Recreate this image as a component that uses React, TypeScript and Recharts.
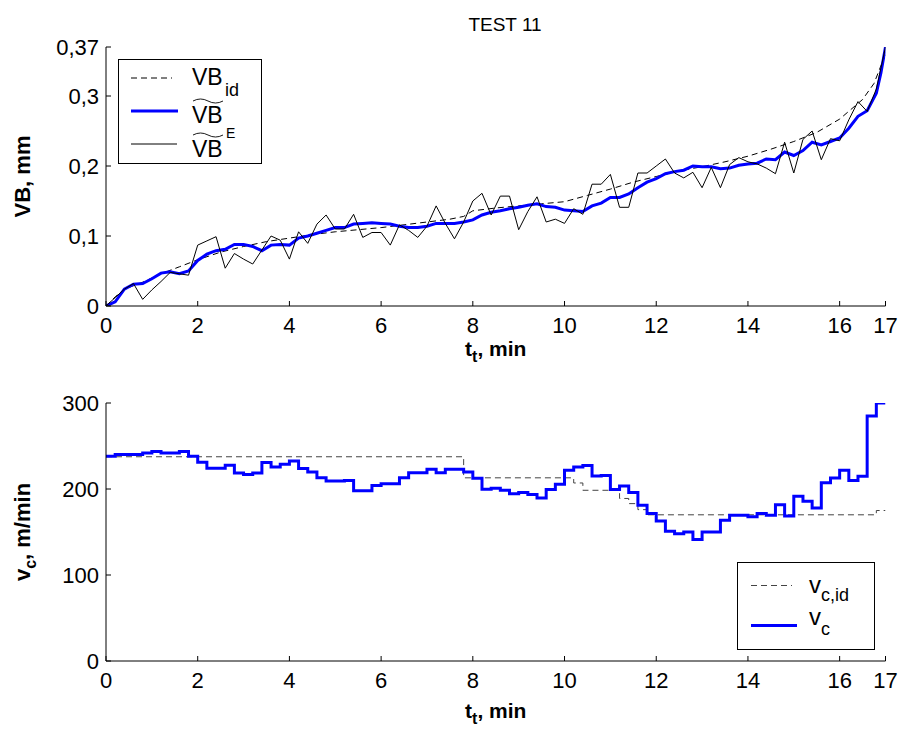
import React from 'react';
import { LineChart, Line, XAxis, YAxis, Legend, Label } from 'recharts';

const FONT = '"Liberation Sans", Arial, Helvetica, sans-serif';

// ---------- axis ticks ----------
const X_TICKS = [0, 2, 4, 6, 8, 10, 12, 14, 16, 17];
const VB_TICKS = [0, 0.1, 0.2, 0.3, 0.37];
const VC_TICKS = [0, 100, 200, 300];

// ---------- time samples (min) ----------
const T_SAMPLES = [0, 0.2, 0.4, 0.6, 0.8, 1, 1.2, 1.4, 1.6, 1.8, 2, 2.2, 2.4, 2.6, 2.8, 3, 3.2, 3.4, 3.6, 3.8, 4, 4.2, 4.4, 4.6, 4.8, 5, 5.2, 5.4, 5.6, 5.8, 6, 6.2, 6.4, 6.6, 6.8, 7, 7.2, 7.4, 7.6, 7.8, 8, 8.2, 8.4, 8.6, 8.8, 9, 9.2, 9.4, 9.6, 9.8, 10, 10.2, 10.4, 10.6, 10.8, 11, 11.2, 11.4, 11.6, 11.8, 12, 12.2, 12.4, 12.6, 12.8, 13, 13.2, 13.4, 13.6, 13.8, 14, 14.2, 14.4, 14.6, 14.8, 15, 15.2, 15.4, 15.6, 15.8, 16, 16.2, 16.4, 16.6, 16.8, 17];
const T_SMOOTH = [0, 0.2, 0.4, 0.6, 0.8, 1, 1.2, 1.4, 1.6, 1.8, 2, 2.2, 2.4, 2.6, 2.8, 3, 3.2, 3.4, 3.6, 3.8, 4, 4.2, 4.4, 4.6, 4.8, 5, 5.2, 5.4, 5.6, 5.8, 6, 6.2, 6.4, 6.6, 6.8, 7, 7.2, 7.4, 7.6, 7.8, 8, 8.2, 8.4, 8.6, 8.8, 9, 9.2, 9.4, 9.6, 9.8, 10, 10.2, 10.4, 10.6, 10.8, 11, 11.2, 11.4, 11.6, 11.8, 12, 12.2, 12.4, 12.6, 12.8, 13, 13.2, 13.4, 13.6, 13.8, 14, 14.2, 14.4, 14.6, 14.8, 15, 15.2, 15.4, 15.6, 15.8, 16, 16.2, 16.4, 16.6, 16.8, 16.9, 17];
const T_IDEAL = [0, 0.2, 0.4, 0.8, 1.2, 1.6, 2, 2.5, 3, 3.5, 4, 4.5, 5, 5.5, 6, 6.5, 7, 7.5, 7.8, 8, 8.5, 9, 9.5, 10, 10.5, 11, 11.5, 12, 12.5, 13, 13.5, 14, 14.5, 15, 15.5, 16, 16.5, 16.75, 17];
const T_VC_IDEAL = [0, 7.8, 10.2, 10.4, 11.2, 11.4, 11.6, 11.8, 16.8, 17];

// ---------- flank wear VB (mm) ----------
const VB_IDEAL = [0, 0.013, 0.024, 0.034, 0.046, 0.056, 0.066, 0.077, 0.085, 0.092, 0.097, 0.102, 0.106, 0.109, 0.112, 0.116, 0.12, 0.124, 0.128, 0.136, 0.14, 0.143, 0.146, 0.149, 0.158, 0.167, 0.177, 0.185, 0.193, 0.199, 0.206, 0.214, 0.224, 0.235, 0.248, 0.267, 0.295, 0.318, 0.36];
const VB_SMOOTH = [0, 0.006, 0.024, 0.031, 0.032, 0.039, 0.047, 0.049, 0.046, 0.05,
  0.065, 0.074, 0.079, 0.081, 0.088, 0.088, 0.085, 0.079, 0.087, 0.088,
  0.087, 0.097, 0.1, 0.104, 0.108, 0.112, 0.112, 0.117, 0.118, 0.119,
  0.118, 0.117, 0.114, 0.112, 0.112, 0.114, 0.118, 0.118, 0.118, 0.12,
  0.123, 0.13, 0.134, 0.136, 0.139, 0.141, 0.144, 0.146, 0.142, 0.141,
  0.137, 0.136, 0.135, 0.143, 0.147, 0.155, 0.155, 0.16, 0.169, 0.177,
  0.182, 0.189, 0.192, 0.194, 0.2, 0.199, 0.199, 0.196, 0.197, 0.201,
  0.203, 0.204, 0.21, 0.209, 0.22, 0.215, 0.222, 0.234, 0.23, 0.235,
  0.24, 0.254, 0.271, 0.279, 0.304, 0.333, 0.37];
const VB_MEASURED = [0, 0.012, 0.024, 0.032, 0.0095, 0.023, 0.035, 0.048, 0.046, 0.044,
  0.087, 0.093, 0.099, 0.054, 0.075, 0.067, 0.06, 0.08, 0.1, 0.094,
  0.067, 0.106, 0.0895, 0.117, 0.13, 0.11, 0.11, 0.131, 0.098, 0.105,
  0.105, 0.087, 0.116, 0.108, 0.098, 0.114, 0.143, 0.118, 0.096, 0.12,
  0.15, 0.161, 0.13, 0.157, 0.157, 0.109, 0.135, 0.156, 0.12, 0.124,
  0.118, 0.139, 0.131, 0.174, 0.174, 0.188, 0.141, 0.141, 0.19, 0.19,
  0.2, 0.21, 0.19, 0.183, 0.191, 0.169, 0.198, 0.169, 0.202, 0.212,
  0.206, 0.203, 0.197, 0.189, 0.234, 0.19, 0.238, 0.25, 0.209, 0.239,
  0.236, 0.266, 0.292, 0.278, 0.31, 0.37];

// ---------- cutting speed vc (m/min) ----------
const VC_IDEAL = [237.5, 213, 207, 198.5, 189, 183, 176, 170, 175, 175];
const VC = [238, 240, 240, 240, 242, 243.5, 242, 242, 243.5, 238,
  231, 224, 224, 227.5, 218.6, 217, 218.6, 230.7, 225.6, 228.7,
  232.6, 223.7, 219.8, 213.2, 209.3, 209.3, 210, 198, 198, 204,
  206, 206, 213.2, 219, 219, 223, 219, 223, 223, 219.8,
  212.4, 199.7, 201, 198.5, 194.6, 196, 193.5, 189.5, 199.3, 205.5,
  221.7, 225.6, 227.2, 215, 215.8, 199.3, 203.5, 195.8, 181, 171.4,
  162.8, 150.8, 148.1, 150, 141.2, 150, 150, 163.6, 169.4, 169.4,
  167.6, 171.4, 169.4, 181.8, 168.6, 191.5, 185.7, 178, 207.4, 212.8,
  221.7, 210, 214.8, 285, 300, 300];

const TITLE = 'TEST 11';

const toPoints = (ts: number[], vs: number[]) => ts.map((t, i) => ({ t, v: vs[i] }));
const commaFmt = (v: number) => String(v).replace('.', ',');

const TICK_STYLE = { fontSize: 22, fill: '#000', fontFamily: FONT };
const BLUE = '#0000ff';

const makeXLabel = (dy: number) => (props: any) => {
  const vb = props.viewBox || {};
  const x = vb.x + vb.width / 2;
  const y = vb.y + dy;
  return (
    <text x={x} y={y} textAnchor="middle" fontFamily={FONT} fontWeight="bold" fontSize={21} fill="#000">
      t<tspan fontSize={16} dy={6}>t</tspan><tspan dy={-6}>, min</tspan>
    </text>
  );
};

const makeYLabel = (main: string, sub: string, rest: string) => (props: any) => {
  const vb = props.viewBox || {};
  const x = vb.x + 30;
  const y = vb.y + vb.height / 2;
  return (
    <text x={x} y={y} transform={`rotate(-90 ${x} ${y})`} textAnchor="middle" fontFamily={FONT} fontWeight="bold" fontSize={22} fill="#000">
      {main}
      {sub ? <tspan fontSize={16} dy={6}>{sub}</tspan> : null}
      <tspan dy={sub ? -6 : 0}>{rest}</tspan>
    </text>
  );
};

const Tilde = ({ x, y, w }: { x: number; y: number; w: number }) => (
  <path d={`M${x},${y} Q${x + w / 4},${y - 4} ${x + w / 2},${y} T${x + w},${y}`} fill="none" stroke="#000" strokeWidth={0.9} />
);

const TopLegend = () => (
  <svg width={144} height={105} style={{ display: 'block' }} fontFamily={FONT}>
    <rect x={0.5} y={0.5} width={143} height={104} fill="#fff" stroke="#000" strokeWidth={1} />
    <line x1={13} x2={54} y1={19} y2={19} stroke="#000" strokeWidth={1} strokeDasharray="6 4" />
    <text x={74} y={26} fontSize={23} fill="#000">VB</text>
    <text x={107} y={37} fontSize={18} fill="#000">id</text>
    <line x1={13} x2={60} y1={52} y2={52} stroke={BLUE} strokeWidth={3} />
    <Tilde x={75} y={42} w={30} />
    <text x={74} y={64} fontSize={23} fill="#000">VB</text>
    <line x1={13} x2={59} y1={85} y2={85} stroke="#000" strokeWidth={1} />
    <Tilde x={75} y={76} w={30} />
    <text x={74} y={98} fontSize={23} fill="#000">VB</text>
    <text x={108} y={79} fontSize={14} fill="#000">E</text>
  </svg>
);

const BottomLegend = () => (
  <svg width={138} height={88} style={{ display: 'block' }} fontFamily={FONT}>
    <rect x={0.5} y={0.5} width={137} height={87} fill="#fff" stroke="#000" strokeWidth={1} />
    <line x1={14} x2={55} y1={23.5} y2={23.5} stroke="#444" strokeWidth={1} strokeDasharray="6 4" />
    <text x={72} y={31} fontSize={24} fill="#000">v<tspan fontSize={18} dy={8}>c,id</tspan></text>
    <line x1={14} x2={60} y1={63.5} y2={63.5} stroke={BLUE} strokeWidth={3} />
    <text x={72} y={63} fontSize={24} fill="#000">v<tspan fontSize={18} dy={10}>c</tspan></text>
  </svg>
);

export default function App() {
  const vbIdeal = toPoints(T_IDEAL, VB_IDEAL);
  const vbSmooth = toPoints(T_SMOOTH, VB_SMOOTH);
  const vbMeasured = toPoints(T_SAMPLES, VB_MEASURED);
  const vcIdeal = toPoints(T_VC_IDEAL, VC_IDEAL);
  const vc = toPoints(T_SAMPLES, VC);

  const axisLine = { stroke: '#000', strokeWidth: 1 };

  return (
    <div style={{ position: 'absolute', left: 0, top: 0, width: 904, height: 736, background: '#fff', fontFamily: FONT }}>
      <div style={{ position: 'absolute', left: 0, top: 0 }}>
        <LineChart width={904} height={368} margin={{ top: 47, right: 18.5, bottom: 12, left: 0 }}>
          <XAxis xAxisId="b" dataKey="t" type="number" domain={[0, 17]} ticks={X_TICKS} interval={0} allowDataOverflow
            orientation="bottom" height={50} tickSize={-5} tickMargin={16} tick={TICK_STYLE} axisLine={axisLine} tickLine={axisLine}>
            <Label content={makeXLabel(50)} />
          </XAxis>
          <XAxis xAxisId="t" dataKey="t" type="number" domain={[0, 17]} ticks={X_TICKS} interval={0} allowDataOverflow
            orientation="top" height={0} tickSize={-5} tick={false} axisLine={axisLine} tickLine={axisLine} />
          <YAxis yAxisId="l" type="number" domain={[0, 0.37]} ticks={VB_TICKS} interval={0} allowDataOverflow width={106}
            tickSize={-5} tickMargin={12} tick={TICK_STYLE} tickFormatter={commaFmt} axisLine={axisLine} tickLine={axisLine}>
            <Label content={makeYLabel('VB, mm', '', '')} />
          </YAxis>
          <YAxis yAxisId="r" orientation="right" type="number" domain={[0, 0.37]} ticks={[0, 0.1, 0.2, 0.3]} interval={0} allowDataOverflow width={0}
            tickSize={-5} tick={false} axisLine={axisLine} tickLine={axisLine} />
          <Line xAxisId="b" yAxisId="l" data={vbIdeal} dataKey="v" type="linear" stroke="#000" strokeWidth={1} strokeDasharray="6 4" dot={false} isAnimationActive={false} />
          <Line xAxisId="b" yAxisId="l" data={vbSmooth} dataKey="v" type="linear" stroke={BLUE} strokeWidth={3} dot={false} isAnimationActive={false} />
          <Line xAxisId="b" yAxisId="l" data={vbMeasured} dataKey="v" type="linear" stroke="#000" strokeWidth={1} dot={false} isAnimationActive={false} />
          <Legend content={TopLegend} layout="vertical" align="center" verticalAlign="middle"
            wrapperStyle={{ left: 118, top: 59, width: 144, height: 105 }} />
        </LineChart>
      </div>
      <svg width={904} height={40} style={{ position: 'absolute', left: 0, top: 0, pointerEvents: 'none' }}>
        <text x={505} y={31} textAnchor="middle" fontFamily={FONT} fontSize={19} fill="#000">{TITLE}</text>
      </svg>
      <div style={{ position: 'absolute', left: 0, top: 368 }}>
        <LineChart width={904} height={368} margin={{ top: 35, right: 18.5, bottom: 25, left: 0 }}>
          <XAxis xAxisId="b" dataKey="t" type="number" domain={[0, 17]} ticks={X_TICKS} interval={0} allowDataOverflow
            orientation="bottom" height={50} tickSize={-5} tickMargin={16} tick={TICK_STYLE} axisLine={axisLine} tickLine={axisLine}>
            <Label content={makeXLabel(57)} />
          </XAxis>
          <XAxis xAxisId="t" dataKey="t" type="number" domain={[0, 17]} ticks={X_TICKS} interval={0} allowDataOverflow
            orientation="top" height={0} tickSize={-5} tick={false} axisLine={axisLine} tickLine={axisLine} />
          <YAxis yAxisId="l" type="number" domain={[0, 300]} ticks={VC_TICKS} interval={0} allowDataOverflow width={106}
            tickSize={-5} tickMargin={12} tick={TICK_STYLE} axisLine={axisLine} tickLine={axisLine}>
            <Label content={makeYLabel('v', 'c', ', m/min')} />
          </YAxis>
          <YAxis yAxisId="r" orientation="right" type="number" domain={[0, 300]} ticks={VC_TICKS} interval={0} allowDataOverflow width={0}
            tickSize={-5} tick={false} axisLine={axisLine} tickLine={axisLine} />
          <Line xAxisId="b" yAxisId="l" data={vcIdeal} dataKey="v" type="stepAfter" stroke="#444" strokeWidth={1} strokeDasharray="6 4" dot={false} isAnimationActive={false} />
          <Line xAxisId="b" yAxisId="l" data={vc} dataKey="v" type="stepAfter" stroke={BLUE} strokeWidth={3} dot={false} isAnimationActive={false} />
          <Legend content={BottomLegend} layout="vertical" align="center" verticalAlign="middle"
            wrapperStyle={{ left: 737, top: 194, width: 138, height: 88 }} />
        </LineChart>
      </div>
    </div>
  );
}
